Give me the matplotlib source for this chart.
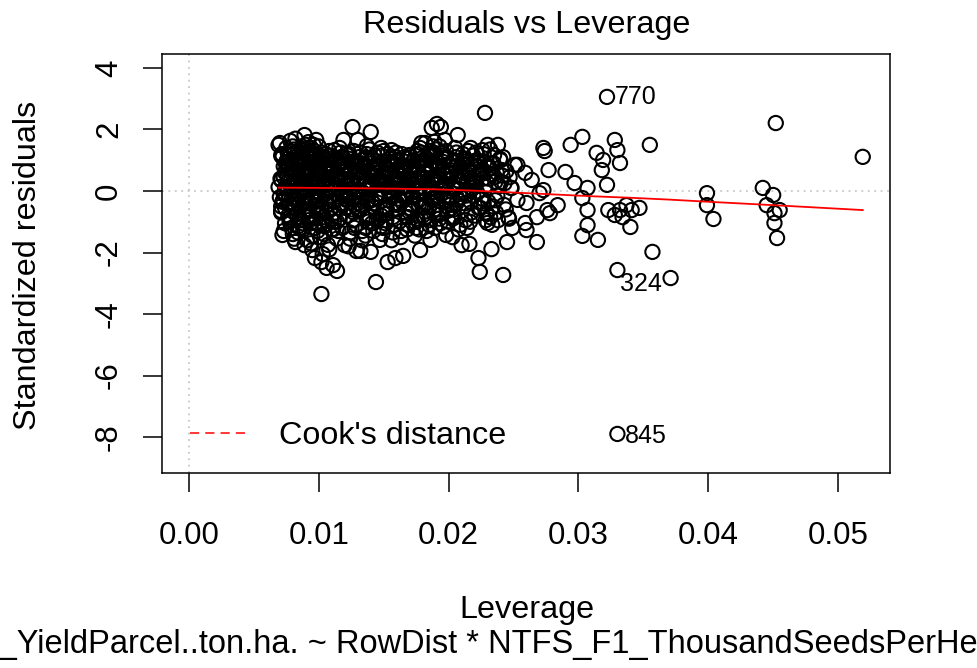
import matplotlib
matplotlib.use("Agg")
import matplotlib.pyplot as plt
from matplotlib.lines import Line2D

plt.rcParams['font.family'] = ['Liberation Sans', 'DejaVu Sans']
plt.rcParams['axes.unicode_minus'] = False

# hat values (leverage) and standardized residuals, bulk of the observations
lev_core = [
    0.0070, 0.0071, 0.0069, 0.0072, 0.0070, 0.0073, 0.0074, 0.0075, 0.0076, 0.0077,
    0.0071, 0.0069, 0.0078, 0.0074, 0.0076, 0.0072, 0.0079, 0.0080, 0.0073, 0.0078,
    0.0073, 0.0075, 0.0078, 0.0071, 0.0077, 0.0079, 0.0080, 0.0072, 0.0074, 0.0076,
    0.0075, 0.0076, 0.0079, 0.0080, 0.0078, 0.0074, 0.0071, 0.0077, 0.0079, 0.0073,
    0.0081, 0.0082, 0.0083, 0.0084, 0.0085, 0.0086, 0.0087, 0.0088, 0.0089, 0.0090,
    0.0090, 0.0089, 0.0088, 0.0087, 0.0086, 0.0085, 0.0084, 0.0083, 0.0082, 0.0081,
    0.0082, 0.0084, 0.0086, 0.0088, 0.0090, 0.0081, 0.0083, 0.0085, 0.0087, 0.0089,
    0.0083, 0.0085, 0.0087, 0.0089, 0.0081, 0.0082, 0.0084, 0.0086, 0.0088, 0.0090,
    0.0086, 0.0081, 0.0089, 0.0084, 0.0087, 0.0082, 0.0090, 0.0085, 0.0083, 0.0088,
    0.0091, 0.0092, 0.0093, 0.0094, 0.0095, 0.0096, 0.0097, 0.0098, 0.0099, 0.0100,
    0.0100, 0.0099, 0.0098, 0.0097, 0.0096, 0.0095, 0.0094, 0.0093, 0.0092, 0.0091,
    0.0092, 0.0094, 0.0096, 0.0098, 0.0100, 0.0091, 0.0093, 0.0095, 0.0097, 0.0099,
    0.0093, 0.0095, 0.0097, 0.0099, 0.0091, 0.0092, 0.0094, 0.0096, 0.0098, 0.0100,
    0.0096, 0.0091, 0.0099, 0.0094, 0.0097, 0.0092, 0.0100, 0.0095, 0.0093, 0.0098,
    0.0101, 0.0102, 0.0103, 0.0104, 0.0105, 0.0106, 0.0107, 0.0108, 0.0109, 0.0110,
    0.0102, 0.0104, 0.0106, 0.0108, 0.0110, 0.0101, 0.0103, 0.0105, 0.0107, 0.0109,
    0.0103, 0.0105, 0.0107, 0.0109, 0.0101, 0.0102, 0.0104, 0.0106, 0.0108, 0.0110,
    0.0106, 0.0101, 0.0109, 0.0104, 0.0107, 0.0102, 0.0110, 0.0105, 0.0103, 0.0108,
    0.0111, 0.0112, 0.0113, 0.0114, 0.0115, 0.0116, 0.0117, 0.0118, 0.0119, 0.0120,
    0.0120, 0.0119, 0.0118, 0.0117, 0.0116, 0.0115, 0.0114, 0.0113, 0.0112, 0.0111,
    0.0112, 0.0114, 0.0116, 0.0118, 0.0120, 0.0111, 0.0113, 0.0115, 0.0117, 0.0119,
    0.0121, 0.0122, 0.0123, 0.0124, 0.0125, 0.0126, 0.0127, 0.0128, 0.0129, 0.0130,
    0.0130, 0.0129, 0.0128, 0.0127, 0.0126, 0.0125, 0.0124, 0.0123, 0.0122, 0.0121,
    0.0122, 0.0124, 0.0126, 0.0128, 0.0130, 0.0121, 0.0123, 0.0125, 0.0127, 0.0129,
    0.0131, 0.0132, 0.0133, 0.0134, 0.0135, 0.0136, 0.0137, 0.0138, 0.0139, 0.0140,
    0.0140, 0.0139, 0.0138, 0.0137, 0.0136, 0.0135, 0.0134, 0.0133, 0.0132, 0.0131,
    0.0132, 0.0134, 0.0136, 0.0138, 0.0140, 0.0131, 0.0133, 0.0135, 0.0137, 0.0139,
    0.0141, 0.0142, 0.0143, 0.0144, 0.0145, 0.0146, 0.0147, 0.0148, 0.0149, 0.0150,
    0.0150, 0.0149, 0.0148, 0.0147, 0.0146, 0.0145, 0.0144, 0.0143, 0.0142, 0.0141,
    0.0142, 0.0144, 0.0146, 0.0148, 0.0150, 0.0141, 0.0143, 0.0145, 0.0147, 0.0149,
    0.0145, 0.0148,
    0.0151, 0.0152, 0.0153, 0.0154, 0.0155, 0.0156, 0.0157, 0.0158, 0.0159, 0.0160,
    0.0160, 0.0159, 0.0158, 0.0157, 0.0156, 0.0155, 0.0154, 0.0153, 0.0152, 0.0151,
    0.0152, 0.0154, 0.0156, 0.0158, 0.0160, 0.0151, 0.0153, 0.0155, 0.0157, 0.0159,
    0.0155, 0.0158,
    0.0161, 0.0162, 0.0163, 0.0164, 0.0165, 0.0166, 0.0167, 0.0168, 0.0169, 0.0170,
    0.0170, 0.0169, 0.0168, 0.0167, 0.0166, 0.0165, 0.0164, 0.0163, 0.0162, 0.0161,
    0.0162, 0.0164, 0.0166, 0.0168, 0.0170, 0.0161, 0.0163, 0.0165, 0.0167, 0.0169,
    0.0171, 0.0172, 0.0173, 0.0174, 0.0175, 0.0176, 0.0177, 0.0178, 0.0179, 0.0180,
    0.0180, 0.0179, 0.0178, 0.0177, 0.0176, 0.0175, 0.0174, 0.0173, 0.0172, 0.0171,
    0.0172, 0.0174, 0.0176, 0.0178, 0.0180, 0.0171, 0.0173, 0.0175, 0.0177, 0.0179,
    0.0181, 0.0182, 0.0183, 0.0184, 0.0185, 0.0186, 0.0187, 0.0188, 0.0189, 0.0190,
    0.0190, 0.0189, 0.0188, 0.0187, 0.0186, 0.0185, 0.0184, 0.0183, 0.0182, 0.0181,
    0.0182, 0.0184, 0.0186, 0.0188, 0.0190, 0.0181, 0.0183, 0.0185, 0.0187, 0.0189,
    0.0186, 0.0189,
    0.0191, 0.0192, 0.0193, 0.0194, 0.0195, 0.0196, 0.0197, 0.0198, 0.0199, 0.0200,
    0.0200, 0.0199, 0.0198, 0.0197, 0.0196, 0.0195, 0.0194, 0.0193, 0.0192, 0.0191,
    0.0192, 0.0194, 0.0196, 0.0198, 0.0200, 0.0191, 0.0193, 0.0195,
    0.0201, 0.0202, 0.0203, 0.0204, 0.0205, 0.0206, 0.0207, 0.0208, 0.0209, 0.0210,
    0.0210, 0.0208, 0.0206, 0.0204, 0.0202, 0.0209, 0.0207, 0.0205, 0.0203, 0.0201,
    0.0204, 0.0207,
    0.0211, 0.0212, 0.0213, 0.0214, 0.0215, 0.0216, 0.0217, 0.0218, 0.0219, 0.0220,
    0.0220, 0.0219, 0.0218, 0.0217, 0.0216, 0.0215, 0.0214, 0.0213, 0.0212, 0.0211,
    0.0221, 0.0222, 0.0223, 0.0224, 0.0225, 0.0226, 0.0227, 0.0228, 0.0229, 0.0230,
    0.0230, 0.0229, 0.0228, 0.0227, 0.0226, 0.0225, 0.0224, 0.0223, 0.0222, 0.0221,
    0.0231, 0.0232, 0.0233, 0.0234, 0.0235, 0.0236, 0.0237, 0.0238, 0.0239, 0.0240,
    0.0232, 0.0234, 0.0236, 0.0238,
    0.0241, 0.0242, 0.0243, 0.0244, 0.0245, 0.0246, 0.0247, 0.0249, 0.0251, 0.0253,
    0.0242, 0.0248,
]
res_core = [
    1.56, -0.65, 0.13, 1.10, -0.20, 0.80, -1.05, 1.40, 0.05, -0.45,
    0.35, 1.50, -0.95, 0.60, 1.25, -0.35, 0.95, -1.40, 0.45, 1.63,
    -0.10, 0.70, 1.30, -0.70, 0.25, -1.20, 0.55, -1.43, -0.55, 0.85,
    0.95, 0.30, -0.25, 1.45, -0.85, 0.10, 1.15, -0.15, 0.65, -1.30,
    1.20, -1.66, 0.40, -0.30, 0.85, -0.95, 1.45, 1.33, 1.82, -0.60,
    0.55, -1.76, -1.25, 0.25, 0.95, -0.10, 1.30, -0.75, 0.70, -1.55,
    -0.20, 1.05, 0.35, -1.05, 1.50, 0.00, 0.80, -0.45, 1.15, 0.60,
    0.20, -0.85, 1.35, -0.35, 0.45, 1.70, -1.35, 0.90, -0.05, 0.30,
    1.00, -0.55, 0.65, -1.15, 1.25, 0.15, -0.70, 0.50, -0.25, 1.10,
    0.45, 1.59, -0.80, 0.15, -1.92, 1.05, -2.18, 1.66, -0.30, 0.75,
    -1.10, 0.30, 1.20, -0.50, 0.90, -1.45, 1.40, 0.05, -0.65, 1.25,
    0.60, -0.20, 1.50, -0.90, 0.20, -1.60, 0.95, 0.40, 1.10, -1.30,
    -0.40, 0.85, -1.20, 0.10, 1.35, -0.95, 0.55, -0.15, 0.70, 1.45,
    0.25, -0.60, 1.00, -1.70, -0.05, 1.15, -0.75, 0.65, 1.30, -0.35,
    0.90, -2.31, 0.30, -0.85, 1.20, -2.50, 0.55, -0.20, 1.05, -1.25,
    -3.35, 0.70, -0.45, 1.30, 0.15, -1.50, 0.95, -0.95, 0.40, -0.60,
    1.10, -0.10, -1.75, 0.60, -0.30, 1.25, -1.10, 0.20, -1.90, 0.85,
    -0.70, 0.50, 1.15, -1.40, 0.05, -0.50, 1.00, 0.35, -2.05, 0.75,
    -2.41, 1.33, 0.20, -2.60, 0.80, -0.55, 1.10, -1.20, 1.66, 0.35,
    -1.76, 0.60, -0.15, 1.25, -0.90, 0.45, -1.55, 1.00, -0.35, 0.70,
    0.10, -1.00, 1.40, -0.40, 0.95, -0.75, 0.55, -1.30, 0.25, -0.05,
    0.50, -0.80, 1.15, -1.35, 0.25, 2.08, -0.45, 0.90, -1.10, 1.66,
    0.05, -1.95, 0.70, 1.30, -0.60, 0.40, -1.55, 1.05, 0.15, -0.25,
    0.85, -0.15, -0.95, 0.60, -0.40, 1.20, -1.80, 0.30, -0.70, 0.95,
    0.35, -1.95, 1.00, -0.50, 0.75, -1.20, 1.46, 0.10, -0.85, -1.98,
    1.92, 0.55, -0.30, 1.20, -1.45, 0.25, -0.05, 0.90, 1.25, -0.65,
    -0.20, 0.65, 0.05, -1.00, 0.45, 1.10, -1.60, 0.80, -0.35, 1.35,
    0.70, -0.40, 1.15, -2.96, 0.30, -0.90, -1.59, 1.40, 0.05, 0.95,
    -0.55, 0.50, -1.15, 0.85, 0.20, 1.25, -0.70, 0.60, -1.30, 0.15,
    1.00, -0.20, 0.40, -0.80, 1.30, -1.05, 0.75, -0.10, 0.35, -1.40,
    0.90, 0.25,
    0.40, -0.75, -2.31, 0.95, -0.20, 1.33, 0.10, -1.10, -2.18, 0.65,
    -0.45, 1.10, 0.25, -1.35, 0.80, -0.05, 0.55, 1.20, -0.95, 0.30,
    0.70, -0.30, -1.60, 0.45, 1.00, -0.60, 0.15, 0.90, -0.85, 0.35,
    0.60, -0.15,
    0.20, -1.00, 0.85, -0.35, -2.11, 0.60, -0.70, 1.05, 0.05, 1.17,
    -0.55, 0.40, -1.25, 0.75, 0.15, -0.10, 1.20, -1.50, 0.50, 0.95,
    -0.25, 0.65, 1.10, -0.85, 0.30, -0.60, 0.35, 0.80, -0.15, -1.10,
    0.55, -0.65, 1.00, 0.20, -1.20, 0.80, -0.30, -1.92, 1.25, 0.40,
    -0.80, 0.95, 0.10, -0.45, 1.30, 0.35, -1.00, 0.70, -0.15, 1.10,
    0.25, -1.45, 0.60, 1.40, -0.55, -0.05, 0.85, -0.90, 0.45, 1.56,
    0.75, 1.56, -0.40, 0.30, -1.10, -1.59, 2.05, 0.95, -0.20, 1.20,
    0.50, -0.75, 1.45, 0.10, 0.85, -0.50, 1.15, -1.30, 0.40, -0.05,
    -0.85, 0.60, 1.30, -0.25, 0.20, 1.00, 0.65, -0.95, 0.35, 1.60,
    0.05, -0.60,
    2.18, 0.45, -0.90, 2.08, 0.15, 1.05, 1.66, -1.43, 0.60, -0.30,
    0.85, -0.65, 1.30, 0.25, -1.15, 0.70, -0.10, 1.45, -0.45, 0.95,
    0.30, -0.75, 0.55, 1.10, -1.00, -0.20, 0.80, 1.25,
    0.40, -0.85, -1.50, 1.00, 0.10, -0.40, 1.82, 0.65, -1.10, -1.76,
    0.90, 0.20, 1.25, -0.60, 0.55, -0.20, 0.35, 1.40, -0.90, 0.80,
    0.05, -0.30,
    0.60, -0.50, 1.05, -1.20, 0.25, -1.72, 1.40, 0.85, -0.15, 0.45,
    -0.80, 1.15, 0.10, -0.35, 0.70, 1.30, 0.35, -0.95, 0.95, -0.10,
    0.30, 1.00, -2.18, -2.63, 0.55, 1.33, -0.40, 2.54, 0.80, -1.04,
    1.50, -0.70, 0.15, 1.20, -0.25, 0.65, 0.95, -0.55, -0.05, 1.25,
    0.40, -0.85, -1.89, 0.90, 1.17, -0.30, 0.60, 1.50, 0.15, 1.00,
    1.35, -0.50, 0.30, -0.95,
    0.68, -2.73, 0.25, -0.60, -1.66, -0.85, 0.45, -1.20, 0.85, 0.85,
    1.10, 0.10,
]

# second pass over the dense middle of the cloud
lev_mid = [
    0.00705, 0.00725, 0.00745, 0.00765, 0.00785, 0.00715, 0.00735, 0.00755, 0.00775, 0.00795, 0.00710, 0.00760,
    0.00805, 0.00825, 0.00845, 0.00865, 0.00885, 0.00815, 0.00835, 0.00855, 0.00875, 0.00895, 0.00810, 0.00860,
    0.00905, 0.00925, 0.00945, 0.00965, 0.00985, 0.00915, 0.00935, 0.00955, 0.00975, 0.00995, 0.00910, 0.00960,
    0.01005, 0.01025, 0.01045, 0.01065, 0.01085, 0.01015, 0.01035, 0.01055, 0.01075, 0.01095, 0.01010, 0.01060,
    0.01105, 0.01125, 0.01145, 0.01165, 0.01185, 0.01115, 0.01135, 0.01155, 0.01175, 0.01195, 0.01110, 0.01160,
    0.01205, 0.01225, 0.01245, 0.01265, 0.01285, 0.01215, 0.01235, 0.01255, 0.01275, 0.01295, 0.01210, 0.01260,
    0.01305, 0.01325, 0.01345, 0.01365, 0.01385, 0.01315, 0.01335, 0.01355, 0.01375, 0.01395, 0.01310, 0.01360,
    0.01405, 0.01425, 0.01445, 0.01465, 0.01485, 0.01415, 0.01435, 0.01455, 0.01475, 0.01495, 0.01410, 0.01460,
    0.01505, 0.01525, 0.01545, 0.01565, 0.01585, 0.01515, 0.01535, 0.01555, 0.01575, 0.01595, 0.01510, 0.01560,
    0.01605, 0.01625, 0.01645, 0.01665, 0.01685, 0.01615, 0.01635, 0.01655, 0.01675, 0.01695, 0.01610, 0.01660,
    0.01705, 0.01725, 0.01745, 0.01765, 0.01785, 0.01715, 0.01735, 0.01755, 0.01775, 0.01795, 0.01710, 0.01760,
    0.01805, 0.01825, 0.01845, 0.01865, 0.01885, 0.01815, 0.01835, 0.01855, 0.01875, 0.01895, 0.01810, 0.01860,
    0.01905, 0.01925, 0.01945, 0.01965, 0.01985, 0.01915, 0.01935, 0.01955, 0.01975, 0.01995, 0.01910, 0.01960,
    0.02005, 0.02025, 0.02045, 0.02065, 0.02085, 0.02015, 0.02035, 0.02055, 0.02075, 0.02095, 0.02010, 0.02060,
    0.02105, 0.02125, 0.02145, 0.02165, 0.02185, 0.02115, 0.02135, 0.02155, 0.02175, 0.02195, 0.02110, 0.02160,
    0.02205, 0.02225, 0.02245, 0.02265, 0.02285, 0.02215, 0.02235, 0.02255, 0.02275, 0.02295, 0.02210, 0.02260,
    0.02305, 0.02325, 0.02345, 0.02365, 0.02385, 0.02315, 0.02335, 0.02355, 0.02375, 0.02395,
    0.02405, 0.02425, 0.02445, 0.02465, 0.02485, 0.02415,
]
res_mid = [
    0.40, -0.30, 0.90, -0.80, 0.15, 1.20, -0.05, 0.55, -1.00, 0.75, -0.50, 1.05,
    -0.40, 0.65, -0.10, 1.10, -0.65, 0.30, 0.95, -1.20, 0.50, -0.20, 1.35, 0.05,
    0.70, -0.85, 0.20, 1.30, -0.30, 0.45, -1.05, 0.95, 0.00, -0.55, 1.15, 0.35,
    -0.25, 0.55, -1.15, 0.80, 0.10, -0.60, 1.05, -0.35, 0.40, -0.90, 0.65, 0.25,
    0.30, -0.70, 0.85, -0.20, 1.10, -1.00, 0.45, 0.05, -0.45, 0.70, -1.25, 0.95,
    -0.55, 0.20, 0.95, -0.95, 0.50, -0.30, 1.20, 0.05, -1.20, 0.65, -0.10, 0.35,
    0.60, -0.45, 0.15, 1.05, -0.80, 0.40, -1.30, 0.85, -0.15, 0.25, -0.60, 1.10,
    -0.30, 0.75, -0.95, 0.30, 1.15, -0.50, 0.50, -0.10, 0.90, -1.20, 0.10, 0.60,
    0.45, -0.60, 1.05, -0.20, 0.20, -1.05, 0.70, 0.00, -0.40, 1.25, -0.75, 0.85,
    -0.40, 0.50, -0.10, 0.95, -0.85, 0.30, -1.30, 0.70, 0.15, -0.55, 1.00, 0.40,
    0.65, -0.20, 0.30, -0.95, 1.05, -0.45, 0.80, 0.05, -1.25, 0.45, -0.60, 1.20,
    -0.50, 0.85, 0.15, -0.25, 1.25, -0.90, 0.55, -0.05, 0.35, -1.20, 1.00, 0.70,
    0.40, -0.70, 1.15, 0.05, -0.35, 0.75, -1.05, 0.95, 0.20, -0.20, 1.35, 0.55,
    -0.15, 0.60, -0.85, 0.95, 0.30, -0.45, 0.10, 1.10, -1.25, 0.45, -0.60, 0.80,
    0.50, -0.40, 0.85, -1.00, 0.20, 1.05, -0.15, 0.65, -0.70, 0.35, 1.20, 0.00,
    0.15, 0.80, -0.55, 0.40, -0.95, 1.00, 0.60, -0.25, 0.95, -0.75, 0.25, 0.70,
    -0.35, 0.55, 0.90, -0.70, 0.20, 0.75, -1.10, 0.45, -0.15, 1.05,
    0.30, -0.45, 0.65, -0.90, 0.10, 0.50,
]

# sparser high-leverage observations
lev_tail = [
    0.0259, 0.0264, 0.0273, 0.0274, 0.0273, 0.0277, 0.0290, 0.0294, 0.0303, 0.0297,
    0.0307, 0.0303, 0.0307, 0.0307, 0.0303, 0.0315, 0.0328, 0.0330, 0.0355, 0.0314,
    0.0319, 0.0332, 0.0318, 0.0322, 0.0276, 0.0284, 0.0270, 0.0268, 0.0259, 0.0278,
    0.0323, 0.0332, 0.0337, 0.0341, 0.0347, 0.0340, 0.0334, 0.0328, 0.0357, 0.0330,
    0.0399, 0.0399, 0.0404, 0.0442, 0.0450, 0.0445, 0.0451, 0.0455, 0.0451, 0.0453,
    0.0452, 0.0519, 0.0268, 0.0260, 0.0253, 0.0260,
]
res_tail = [
    0.59, 0.36, 1.40, 1.30, 0.03, 0.68, 0.62, 1.50, 1.76, 0.26,
    0.10, -0.23, -0.62, -1.11, -1.46, -1.59, 1.66, 1.33, 1.50, 1.24,
    1.01, 0.91, 0.68, 0.20, -0.62, -0.46, -0.07, -0.85, -1.04, -0.72,
    -0.62, -0.62, -0.46, -0.62, -0.55, -1.17, -0.85, -0.78, -1.98, -2.57,
    -0.07, -0.46, -0.91, 0.10, -0.13, -0.46, -0.72, -0.62, -1.04, -1.53,
    2.21, 1.11, -1.66, -1.27, -0.29, -0.39,
]

# flagged observations
id_labels = ['770', '324', '845']
id_lev = [0.0322, 0.0371, 0.0330]
id_res = [3.06, -2.83, -7.90]

# smoother through the residuals
smooth_lev = [0.0069, 0.010, 0.013, 0.016, 0.019, 0.022, 0.025, 0.028,
              0.031, 0.034, 0.037, 0.040, 0.045, 0.0519]
smooth_res = [0.11, 0.10, 0.09, 0.075, 0.055, 0.01, -0.05, -0.11,
              -0.17, -0.22, -0.28, -0.35, -0.46, -0.62]

x_ticks = [0.00, 0.01, 0.02, 0.03, 0.04, 0.05]
y_ticks = [-8, -6, -4, -2, 0, 2, 4]

sub_caption = "lm(NTFS_F1_YieldParcel..ton.ha. ~ RowDist * NTFS_F1_ThousandSeedsPerHectare ..."

FS = 23.3      # titles and labels
FS_TICK = 22.5
W, H = 977, 668

fig = plt.figure(figsize=(W / 100, H / 100), dpi=100)
ax = fig.add_axes([162 / W, 1 - 473 / H, (890 - 162) / W, (473 - 54) / H])
ax.set_xlim(-0.00208, 0.0540)
ax.set_ylim(-9.17, 4.455)

ax.axhline(0, color='#bebebe', ls=(0, (1.2, 3)), lw=1.1, zorder=1)
ax.axvline(0, color='#bebebe', ls=(0, (1.2, 3)), lw=1.1, zorder=1)

all_lev = lev_core + lev_mid + lev_tail + id_lev
all_res = res_core + res_mid + res_tail + id_res
ax.scatter(all_lev, all_res, s=105, facecolors='none', edgecolors='black',
           linewidths=1.5, zorder=2)
ax.plot(smooth_lev, smooth_res, color='red', lw=1.3, zorder=3)

for lab, x, y in zip(id_labels, id_lev, id_res):
    if lab == '324':
        ax.annotate(lab, (x, y), xytext=(-6.5, -4), textcoords='offset points',
                    ha='right', va='center', fontsize=18)
    else:
        ax.annotate(lab, (x, y), xytext=(5.5, -1.5 if lab == '845' else 0),
                    textcoords='offset points', ha='left', va='center', fontsize=18)

cook = Line2D([], [], color='red', ls=(0, (6, 4)), lw=1.1)
ax.legend([cook], ["Cook's distance"], loc='center left',
          bbox_to_anchor=((190 - 162) / 728, (473 - 436) / 419),
          frameon=False, fontsize=FS, handlelength=1.85, handletextpad=0.9,
          borderpad=0, borderaxespad=0)

ax.set_xticks(x_ticks)
ax.set_xticklabels(['%.2f' % t for t in x_ticks], fontsize=FS_TICK)
ax.set_yticks(y_ticks)
ax.set_yticklabels([str(t) for t in y_ticks], fontsize=FS_TICK, rotation=90, va='center')
ax.tick_params(axis='both', length=14, width=1.1, color='black')
ax.tick_params(axis='x', pad=20.5)
ax.tick_params(axis='y', pad=13.4)
for sp in ax.spines.values():
    sp.set_linewidth(1.1)

fig.text(526.5 / W, 1 - 25 / H, 'Residuals vs Leverage', ha='center', va='center', fontsize=FS)
fig.text(526.5 / W, 1 - 610 / H, 'Leverage', ha='center', va='center', fontsize=FS)
fig.text(28 / W, 1 - 265 / H, 'Standardized residuals', rotation=90,
         ha='center', va='center', fontsize=FS)
fig.text(0.460, 1 - 645 / H, sub_caption, ha='center', va='center', fontsize=23.5)

fig.savefig('out.png', dpi=100)
